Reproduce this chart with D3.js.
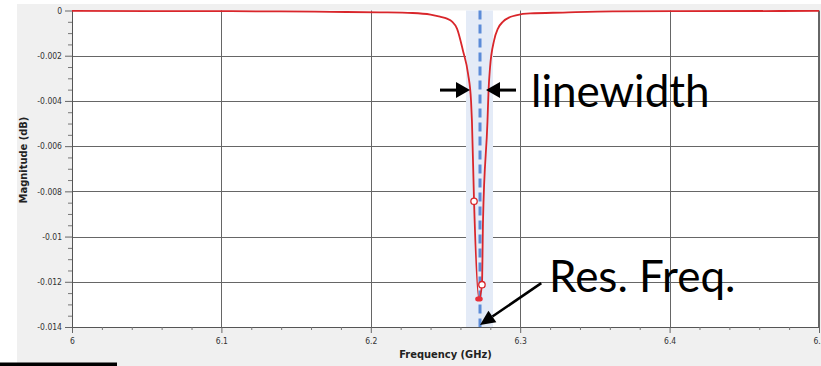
<!DOCTYPE html>
<html>
<head>
<meta charset="utf-8">
<script src="https://cdn.jsdelivr.net/npm/d3@7"></script>
<style>
  body { margin: 0; background: #fff; }
  svg { display: block; }
</style>
</head>
<body>
<div id="chart"></div>
<script>
// resonance sweep
const freq = [6.000, 6.052, 6.106, 6.139, 6.173, 6.206, 6.228, 6.240, 6.2463, 6.2510, 6.2544, 6.2577,
  6.2617, 6.2651, 6.2671, 6.2677, 6.2691, 6.2724, 6.2744, 6.2751, 6.2781, 6.2788, 6.2798,
  6.2825, 6.2851, 6.2885, 6.2932, 6.2979, 6.3066, 6.3286, 6.3621, 6.4070, 6.500];
const mag = [-0.00002, -0.00003, -0.00003, -0.00004, -0.00006, -0.00008, -0.00011, -0.00018, -0.00027, -0.00036, -0.00049, -0.0008,
  -0.00178, -0.0028, -0.0040, -0.0049, -0.00844, -0.01276, -0.01213, -0.00933, -0.0049, -0.00356, -0.00253,
  -0.00133, -0.0008, -0.00049, -0.00029, -0.0002, -0.00013, -0.00009, -0.00004, -0.00003, -0.00002];

const openMarkers = [[6.2691, -0.00844], [6.2744, -0.01213]];
const minMarker = [6.2724, -0.01276];

const xTicks = [6, 6.1, 6.2, 6.3, 6.4, 6.5];
const xTickLabels = ["6", "6.1", "6.2", "6.3", "6.4", "6.5"];
const yTicks = [0, -0.002, -0.004, -0.006, -0.008, -0.01, -0.012, -0.014];
const yTickLabels = ["0", "-0.002", "-0.004", "-0.006", "-0.008", "-0.01", "-0.012", "-0.014"];

const resFreq = 6.2731;
const band = [6.2637, 6.2818];
// linewidth arrows (tail, tip) at this level
const lwLevel = -0.00352;
const lwLeft = [6.2463, 6.2664];
const lwRight = [6.2972, 6.2771];
const resArrowTail = [6.3141, -0.01206];

const width = 821, height = 366;
const margin = {top: 10.5, right: 2, bottom: 39, left: 72};

const svg = d3.select("#chart")
  .append("svg")
  .attr("width", width)
  .attr("height", height);

// grey window panel + white plot area
svg.append("rect").attr("x", 17).attr("y", 4).attr("width", width - 17).attr("height", height - 4).attr("fill", "#f0f0f0");

const x = d3.scaleLinear().domain([6, 6.5]).range([margin.left, width - margin.right]);
const y = d3.scaleLinear().domain([0, -0.014]).range([margin.top, height - margin.bottom]);

svg.append("rect")
  .attr("x", x(6)).attr("y", y(0))
  .attr("width", x(6.5) - x(6)).attr("height", y(-0.014) - y(0))
  .attr("fill", "#fff");

// grid
svg.append("g").selectAll("line")
  .data(xTicks.slice(1))
  .enter().append("line")
  .attr("x1", d => Math.round(x(d)) + 0.5).attr("x2", d => Math.round(x(d)) + 0.5)
  .attr("y1", y(0)).attr("y2", y(-0.014))
  .attr("stroke", "#666").attr("stroke-width", 1);

svg.append("g").selectAll("line")
  .data(yTicks.slice(1, -1))
  .enter().append("line")
  .attr("x1", x(6)).attr("x2", x(6.5))
  .attr("y1", d => Math.round(y(d)) + 0.5).attr("y2", d => Math.round(y(d)) + 0.5)
  .attr("stroke", "#666").attr("stroke-width", 1);

// highlighted band
svg.append("rect")
  .attr("x", x(band[0])).attr("y", y(0))
  .attr("width", x(band[1]) - x(band[0])).attr("height", y(-0.014) - y(0))
  .attr("fill", "#e4ebf7");

// axes
const xAxis = d3.axisBottom(x)
  .tickValues(xTicks)
  .tickFormat((d, i) => xTickLabels[i])
  .tickSize(6).tickSizeOuter(0);
const gx = svg.append("g")
  .attr("transform", `translate(0,${y(-0.014)})`)
  .call(xAxis);
gx.select(".domain").attr("stroke", "#555");
gx.selectAll(".tick line").attr("stroke", "#666");
gx.selectAll("text")
  .attr("font-family", "'DejaVu Sans Condensed', 'Liberation Sans Narrow', sans-serif")
  .attr("font-size", "8.5px").attr("fill", "#333").attr("dy", "0.9em");

const xMinor = d3.range(0, 26).map(i => 6 + i * 0.02).filter(v => Math.abs(v * 10 - Math.round(v * 10)) > 1e-6);
svg.append("g").attr("transform", `translate(0,${y(-0.014)})`)
  .call(d3.axisBottom(x).tickValues(xMinor).tickFormat("").tickSize(3).tickSizeOuter(0))
  .call(g => g.select(".domain").remove())
  .selectAll("line").attr("stroke", "#777");

const yAxis = d3.axisLeft(y)
  .tickValues(yTicks)
  .tickFormat((d, i) => yTickLabels[i])
  .tickSize(7).tickSizeOuter(0);
const gy = svg.append("g")
  .attr("transform", `translate(${x(6)},0)`)
  .call(yAxis);
gy.select(".domain").attr("stroke", "#555");
gy.selectAll(".tick line").attr("stroke", "#666");
gy.selectAll("text")
  .attr("font-family", "'DejaVu Sans Condensed', 'Liberation Sans Narrow', sans-serif")
  .attr("font-size", "8.5px").attr("fill", "#333");

const yMinor = d3.range(0, 29).map(i => -i * 0.0005).filter(v => Math.abs(v / 0.002 - Math.round(v / 0.002)) > 1e-6);
svg.append("g").attr("transform", `translate(${x(6)},0)`)
  .call(d3.axisLeft(y).tickValues(yMinor).tickFormat("").tickSize(4).tickSizeOuter(0))
  .call(g => g.select(".domain").remove())
  .selectAll("line").attr("stroke", "#777");

// right border
svg.append("line")
  .attr("x1", x(6.5) - 0.5).attr("x2", x(6.5) - 0.5)
  .attr("y1", y(0)).attr("y2", y(-0.014))
  .attr("stroke", "#666");

// axis titles
svg.append("text")
  .attr("x", (x(6) + x(6.5)) / 2 - 0).attr("y", 358)
  .attr("text-anchor", "middle")
  .attr("font-family", "'DejaVu Sans Condensed', 'Liberation Sans Narrow', sans-serif")
  .attr("font-weight", "bold").attr("font-size", "11px").attr("fill", "#222")
  .text("Frequency (GHz)");

svg.append("text")
  .attr("transform", "translate(27,160) rotate(-90)")
  .attr("text-anchor", "middle")
  .attr("font-family", "'DejaVu Sans Condensed', 'Liberation Sans Narrow', sans-serif")
  .attr("font-weight", "bold").attr("font-size", "11px").attr("fill", "#222")
  .text("Magnitude (dB)");

// dashed resonance marker
svg.append("line")
  .attr("x1", x(resFreq)).attr("x2", x(resFreq))
  .attr("y1", y(0)).attr("y2", y(-0.014))
  .attr("stroke", "#5b8bd8").attr("stroke-width", 3)
  .attr("stroke-dasharray", "9,5");

// curve
const pts = freq.map((f, i) => [f, mag[i]]);
const line = d3.line()
  .x(d => x(d[0]))
  .y(d => y(d[1]))
  .curve(d3.curveMonotoneX);

svg.append("path")
  .datum(pts)
  .attr("d", line)
  .attr("fill", "none")
  .attr("stroke", "#d9262b")
  .attr("stroke-width", 1.8);

svg.selectAll(".open")
  .data(openMarkers)
  .enter().append("circle")
  .attr("class", "open")
  .attr("cx", d => x(d[0])).attr("cy", d => y(d[1]))
  .attr("r", 3.2)
  .attr("fill", "#fff").attr("stroke", "#d9262b").attr("stroke-width", 1.3);

svg.append("ellipse")
  .attr("cx", x(minMarker[0])).attr("cy", y(minMarker[1]))
  .attr("rx", 3.8).attr("ry", 2.6)
  .attr("fill", "#e8303a");

// annotations
function arrow(x1, y1, x2, y2, headLen, headHalf, sw) {
  const a = Math.atan2(y2 - y1, x2 - x1);
  const bx = x2 - headLen * Math.cos(a), by = y2 - headLen * Math.sin(a);
  svg.append("line")
    .attr("x1", x1).attr("y1", y1).attr("x2", bx).attr("y2", by)
    .attr("stroke", "#000").attr("stroke-width", sw);
  const p = [
    [x2, y2],
    [bx + headHalf * Math.sin(a), by - headHalf * Math.cos(a)],
    [bx - headHalf * Math.sin(a), by + headHalf * Math.cos(a)]
  ];
  svg.append("polygon")
    .attr("points", p.map(q => q.join(",")).join(" "))
    .attr("fill", "#000");
}

arrow(x(lwLeft[0]), y(lwLevel), x(lwLeft[1]), y(lwLevel), 14, 8, 3);
arrow(x(lwRight[0]), y(lwLevel), x(lwRight[1]), y(lwLevel), 14, 8, 3);
arrow(x(resArrowTail[0]), y(resArrowTail[1]), x(resFreq), y(-0.014) - 2, 15, 7, 2.5);

svg.append("text")
  .attr("x", 531).attr("y", 107)
  .attr("font-family", "Lato, 'Open Sans', sans-serif")
  .attr("font-size", "44px").attr("fill", "#000")
  .text("linewidth");

svg.append("text")
  .attr("x", 549).attr("y", 292)
  .attr("font-family", "Lato, 'Open Sans', sans-serif")
  .attr("font-size", "44px").attr("fill", "#000")
  .text("Res. Freq.");

// black strip in lower left corner
svg.append("rect").attr("x", 0).attr("y", 362.5).attr("width", 117).attr("height", 4).attr("fill", "#000");
</script>
</body>
</html>
